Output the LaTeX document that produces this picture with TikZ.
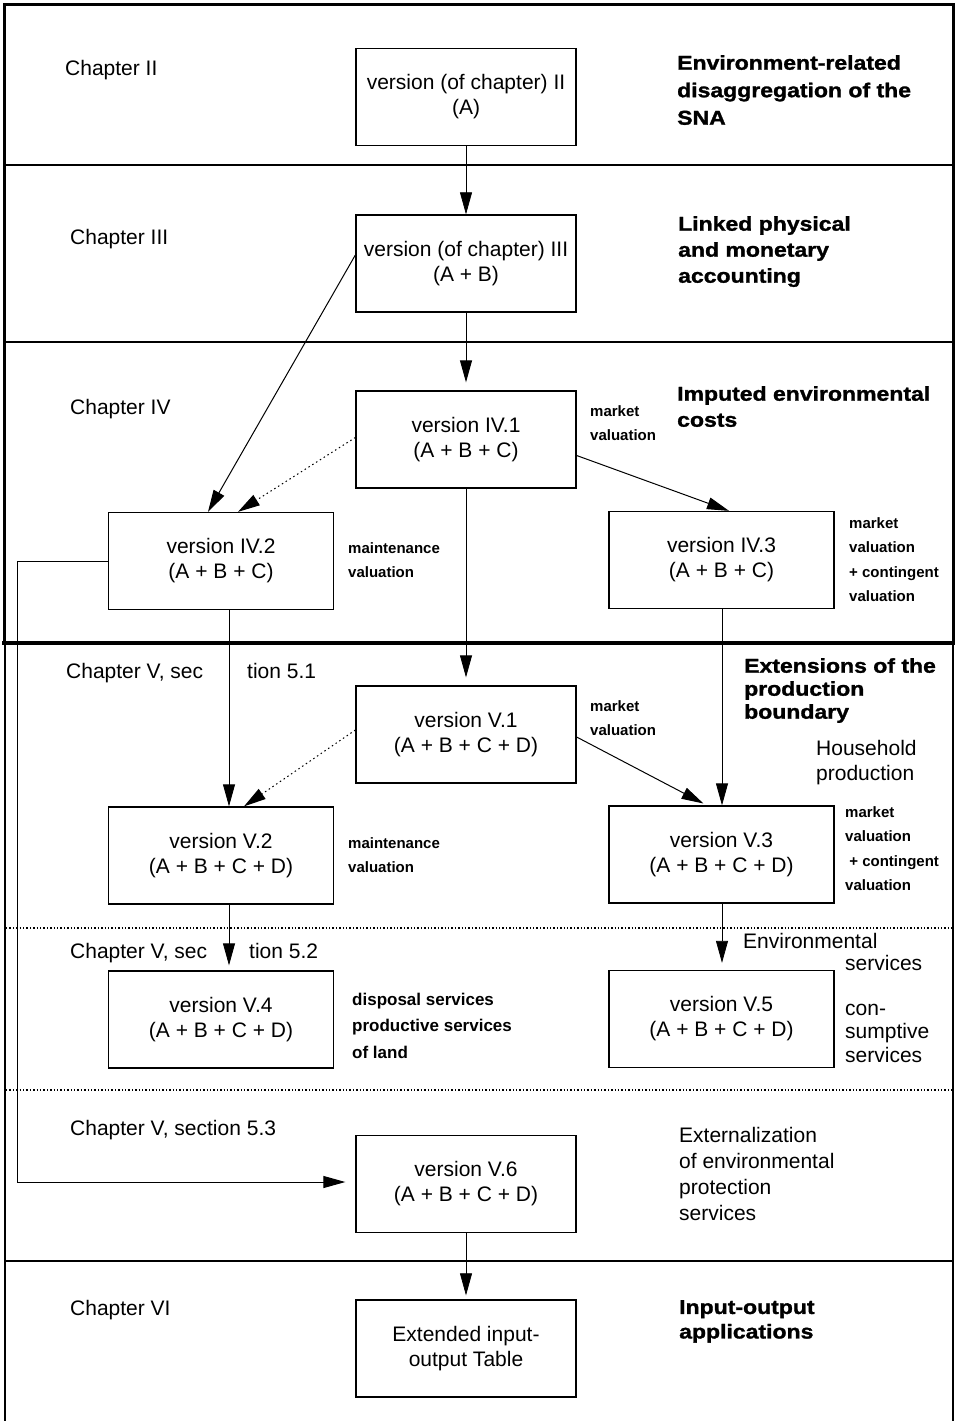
\documentclass[tikz,border=0pt]{standalone}
\usepackage{fontspec}
\setmainfont{Liberation Sans}
\newfontfamily\heavyfont{Liberation Sans}[BoldFeatures={FakeBold=1.4}, FakeStretch=1.15]
\usetikzlibrary{arrows.meta,calc}
\begin{document}
\begin{tikzpicture}[x=1pt,y=-1pt,
  box/.style={draw, line width=1.3pt, minimum height=97pt, align=center, inner sep=0pt,
    font=\fontsize{21}{25}\selectfont},
  boxm/.style={box, minimum width=220pt},
  boxs/.style={box, minimum width=225pt},
  chap/.style={anchor=base west, inner sep=0pt, font=\fontsize{21}{25}\selectfont},
  head/.style={anchor=north west, inner sep=0pt, align=left},
  hbold/.style={head, font=\heavyfont\bfseries\fontsize{20}{26}\selectfont},
  hreg/.style={head, font=\fontsize{21}{26}\selectfont},
  small/.style={head, font=\bfseries\fontsize{15}{24.5}\selectfont},
  conn/.style={line width=1pt, -{Triangle[length=22pt,width=12pt]}},
  thinconn/.style={line width=0.7pt, -{Triangle[length=22pt,width=12pt]}},
  dotconn/.style={conn, dash pattern=on 1.5pt off 3pt},
  sep/.style={line width=1.5pt},
  dotsep/.style={line width=1.4pt, dash pattern=on 1.4pt off 2pt}
]
\useasboundingbox (0,0) rectangle (956,1421);

% frame and separators
\draw[line width=3pt] (4,643) -- (4,5) -- (953,5) -- (953,643);
\draw[sep] (4,165) -- (953,165);
\draw[sep] (4,342) -- (953,342);
\draw[sep] (5,643) -- (5,1421);
\draw[sep] (953,643) -- (953,1421);
\draw[line width=4.5pt] (2,643) -- (955,643);
\draw[dotsep] (6,928) -- (952,928);
\draw[dotsep] (6,1090) -- (952,1090);
\draw[sep] (5,1261) -- (953,1261);

% boxes
\node[boxm] (ii)  at (466,97)     {version (of chapter) II\\(A)};
\node[boxm] (iii) at (466,263.5)  {version (of chapter) III\\(A + B)};
\node[boxm] (iv1) at (466,439.5)  {version IV.1\\(A + B + C)};
\node[boxs] (iv2) at (221,561)    {version IV.2\\(A + B + C)};
\node[boxs] (iv3) at (721.5,560)  {version IV.3\\(A + B + C)};
\node[boxm] (v1)  at (466,734.5)  {version V.1\\(A + B + C + D)};
\node[boxs] (v2)  at (221,855.5)  {version V.2\\(A + B + C + D)};
\node[boxs] (v3)  at (721.5,854.5){version V.3\\(A + B + C + D)};
\node[boxs] (v4)  at (221,1019.5) {version V.4\\(A + B + C + D)};
\node[boxs] (v5)  at (721.5,1019) {version V.5\\(A + B + C + D)};
\node[boxm] (v6)  at (466,1184)   {version V.6\\(A + B + C + D)};
\node[boxm] (ext) at (466,1348.5) {Extended input-\\output Table};

% chapter labels
\node[chap] (c2)  at (65,76)    {Chapter II};
\node[chap] (c3)  at (70,244)   {Chapter III};
\node[chap] (c4)  at (70,414)   {Chapter IV};
\node[chap] (c51) at (66,678)   {Chapter V, sec};
\node[chap] (c51b) at (247,678) {tion 5.1};
\node[chap] (c52) at (70,958)   {Chapter V, sec};
\node[chap] (c52b) at (249,958) {tion 5.2};
\node[chap] (c53) at (70,1135)  {Chapter V, section 5.3};
\node[chap] (c6)  at (70,1315)  {Chapter VI};

% bold headings
\node[hbold, font=\heavyfont\bfseries\fontsize{20}{27.5}\selectfont] (h2) at (677,55)
  {Environment-related\\disaggregation of the\\SNA};
\node[hbold] (h3) at (678,216) {Linked physical\\and monetary\\accounting};
\node[hbold] (h4) at (677,386) {Imputed environmental\\costs};
\node[hbold, font=\heavyfont\bfseries\fontsize{20}{23}\selectfont] (h5) at (744,658)
  {Extensions of the\\production\\boundary};
\node[hbold, font=\heavyfont\bfseries\fontsize{20}{24.5}\selectfont] (h6) at (679,1300)
  {Input-output\\applications};

% regular side labels
\node[hreg, font=\fontsize{21}{25}\selectfont] (hh) at (816,740) {Household\\production};
\node[hreg] (env) at (743,933) {Environmental};
\node[hreg] (envs) at (845,955) {services};
\node[hreg, font=\fontsize{21}{23.5}\selectfont] (cons) at (845,1003.5) {con-\\sumptive\\services};
\node[hreg] (extn) at (679,1127) {Externalization\\of environmental\\protection\\services};

% small valuation labels
\node[small, font=\bfseries\fontsize{15}{24}\selectfont] (l1) at (590,405) {market\\valuation};
\node[small, font=\bfseries\fontsize{15}{24}\selectfont] (l2) at (348,542) {maintenance\\valuation};
\node[small] (l3) at (849,517) {market\\valuation\\+ contingent\\valuation};
\node[small, font=\bfseries\fontsize{15}{24}\selectfont] (l4) at (590,700) {market\\valuation};
\node[small, font=\bfseries\fontsize{15}{24}\selectfont] (l5) at (348,837) {maintenance\\valuation};
\node[small] (l6) at (845,806) {market\\valuation\\\ + contingent\\valuation};
\node[head, font=\bfseries\fontsize{17}{26.5}\selectfont] (l7) at (352,992.5)
  {disposal services\\productive services\\of land};

% connectors
\coordinate (lx) at (17,0);
\draw[thinconn] (ii.south) -- (iii.north);
\draw[conn, shorten >=8pt] (iii.south) -- (iv1.north);
\draw[conn] ([yshift=8.5pt]iii.west) -- ([xshift=-13pt]iv2.north);
\draw[dotconn] ([yshift=2pt]iv1.west) -- ([xshift=17pt]iv2.north);
\draw[conn] ([yshift=-16pt]iv1.east) -- ([xshift=7.5pt]iv3.north);
\draw[conn, line width=0.8pt, shorten >=8pt] (iv1.south) -- (v1.north);
\draw[conn, line width=0.8pt] ([xshift=8pt]iv2.south) -- ([xshift=8pt]v2.north);
\draw[conn, line width=0.8pt] ([xshift=0.5pt]iv3.south) -- ([xshift=0.5pt]v3.north);
\draw[dotconn] ([yshift=4.5pt]v1.west) -- ([xshift=23pt]v2.north);
\draw[conn, shorten >=4pt] ([yshift=-2.5pt]v1.east) -- ([xshift=-14.5pt]v3.north);
\draw[conn, line width=0.8pt, shorten >=5pt] ([xshift=8pt]v2.south) -- ([xshift=8pt]v4.north);
\draw[conn, line width=0.8pt, shorten >=7pt] ([xshift=0.5pt]v3.south) -- ([xshift=0.5pt]v5.north);
\draw[conn, shorten >=10pt] (iv2.west) -- (iv2.west -| lx) |- ([yshift=2pt]v6.west);
\draw[thinconn, shorten >=4pt] (v6.south) -- (ext.north);
\end{tikzpicture}
\end{document}
